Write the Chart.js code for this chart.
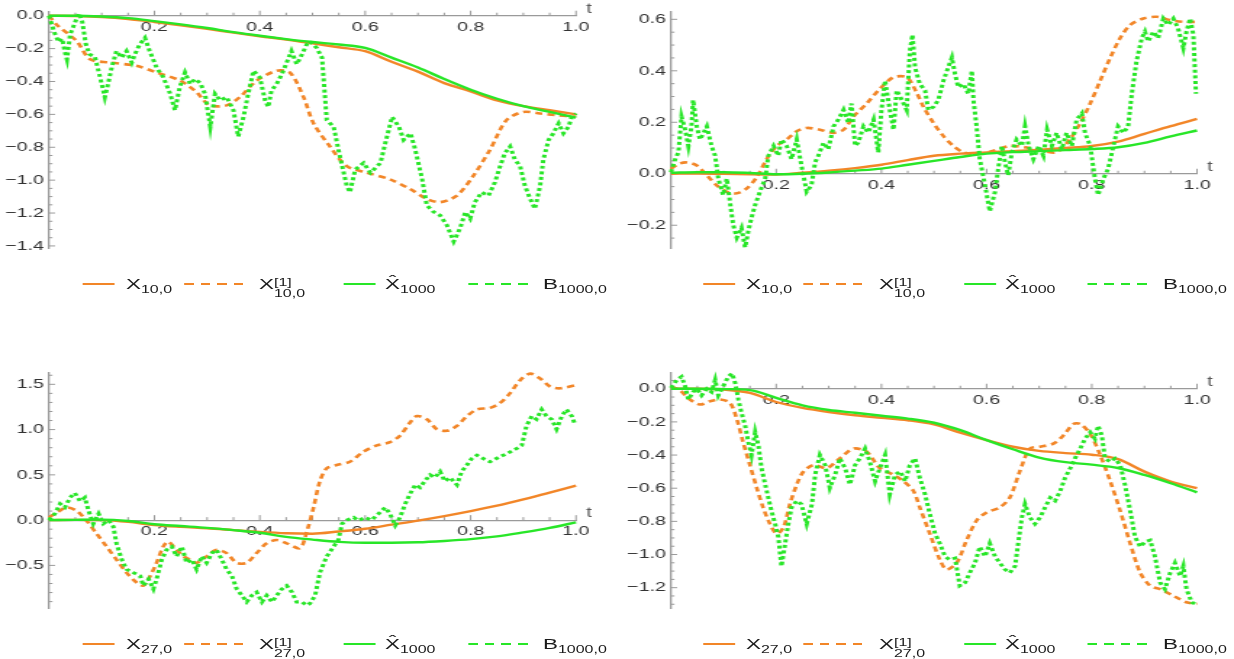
<!DOCTYPE html>
<html>
<head>
<meta charset="utf-8">
<script src="https://cdn.jsdelivr.net/npm/chart.js@4.4.0/dist/chart.umd.min.js"></script>
<style>
html, body { margin: 0; padding: 0; background: #fff; overflow: hidden; }
#page { position: absolute; left: 0; top: 0; width: 851px; height: 659px; transform: scaleX(1.45); transform-origin: 0 0; font-family: "Liberation Sans", Arial, sans-serif; color: #1a1a1a; }
.panel { position: absolute; }
.leg { position: absolute; height: 0; }
.sw { position: absolute; top: -1.3px; height: 2.6px; }
.tx { position: absolute; top: -12px; line-height: 24px; font-size: 15.5px; white-space: nowrap; }
.tx sub { font-size: 11px; vertical-align: -4px; line-height: 0; }
.stack { display: inline-block; vertical-align: -8px; font-size: 11px; line-height: 11px; }
.stack span { display: block; }
</style>
</head>
<body>
<div id="page">
  <div class="panel" style="left:0;top:0;width:425px;height:260px"><canvas id="c1"></canvas></div>
  <div class="panel" style="left:425px;top:0;width:426px;height:260px"><canvas id="c2"></canvas></div>
  <div class="panel" style="left:0;top:360px;width:425px;height:260px"><canvas id="c3"></canvas></div>
  <div class="panel" style="left:425px;top:360px;width:426px;height:260px"><canvas id="c4"></canvas></div>
</div>
<script>
const orange = '#f28628'
const green = '#28e628'
const axisColor = '#9a9a9a'
const labelColor = '#333333'

// shared t grid for the smooth curves
const tGrid = [0, 0.05, 0.1, 0.15, 0.2, 0.25, 0.3, 0.35, 0.4, 0.45, 0.5, 0.55, 0.6, 0.65, 0.7, 0.75, 0.8, 0.85, 0.9, 0.95, 1]
const xTickLabels = [0.2, 0.4, 0.6, 0.8, 1.0]

// panel 1 (top left)
const p1X = [0, -0.002, -0.008, -0.02, -0.038, -0.058, -0.08, -0.103, -0.125, -0.145, -0.168, -0.192, -0.216, -0.28, -0.34, -0.41, -0.46, -0.515, -0.55, -0.575, -0.6]
const p1Hat = [0, 0, -0.005, -0.015, -0.033, -0.053, -0.075, -0.1, -0.122, -0.142, -0.16, -0.175, -0.196, -0.255, -0.315, -0.385, -0.45, -0.505, -0.55, -0.585, -0.62]
const p1X1 = [[0, 0], [0.015, -0.056], [0.053, -0.156], [0.078, -0.265], [0.116, -0.285], [0.166, -0.305], [0.204, -0.345], [0.249, -0.395], [0.28, -0.465], [0.305, -0.545], [0.337, -0.545], [0.362, -0.495], [0.394, -0.395], [0.432, -0.335], [0.457, -0.345], [0.483, -0.495], [0.502, -0.655], [0.533, -0.795], [0.565, -0.915], [0.603, -0.955], [0.647, -0.995], [0.685, -1.054], [0.717, -1.114], [0.742, -1.134], [0.774, -1.094], [0.805, -0.974], [0.837, -0.814], [0.868, -0.635], [0.9, -0.585], [0.932, -0.595], [0.963, -0.605], [1.0, -0.615]]
const p1B = [[0, 0], [0.01, -0.1], [0.018, -0.16], [0.025, -0.14], [0.03, -0.22], [0.034, -0.265], [0.04, -0.115], [0.05, -0.036], [0.057, 0.014], [0.063, -0.036], [0.07, -0.175], [0.077, -0.235], [0.087, -0.25], [0.097, -0.375], [0.106, -0.495], [0.112, -0.415], [0.119, -0.315], [0.128, -0.215], [0.138, -0.255], [0.147, -0.215], [0.157, -0.285], [0.163, -0.235], [0.172, -0.175], [0.182, -0.135], [0.191, -0.215], [0.204, -0.315], [0.217, -0.375], [0.23, -0.475], [0.239, -0.575], [0.248, -0.435], [0.258, -0.345], [0.268, -0.415], [0.277, -0.385], [0.287, -0.41], [0.296, -0.475], [0.306, -0.675], [0.315, -0.475], [0.325, -0.515], [0.337, -0.495], [0.35, -0.575], [0.359, -0.735], [0.369, -0.615], [0.378, -0.475], [0.388, -0.335], [0.4, -0.375], [0.41, -0.515], [0.416, -0.555], [0.422, -0.455], [0.432, -0.415], [0.442, -0.355], [0.451, -0.285], [0.46, -0.215], [0.47, -0.295], [0.48, -0.235], [0.489, -0.175], [0.495, -0.156], [0.508, -0.196], [0.518, -0.255], [0.527, -0.635], [0.54, -0.675], [0.552, -0.855], [0.565, -1.034], [0.571, -1.074], [0.581, -0.935], [0.597, -0.895], [0.61, -0.955], [0.629, -0.895], [0.638, -0.775], [0.651, -0.615], [0.664, -0.675], [0.673, -0.755], [0.686, -0.715], [0.695, -0.815], [0.708, -0.995], [0.717, -1.154], [0.73, -1.194], [0.742, -1.214], [0.755, -1.274], [0.768, -1.373], [0.78, -1.293], [0.79, -1.194], [0.799, -1.234], [0.808, -1.134], [0.821, -1.074], [0.834, -1.094], [0.846, -1.014], [0.856, -0.915], [0.865, -0.835], [0.875, -0.795], [0.884, -0.875], [0.894, -0.915], [0.903, -1.034], [0.913, -1.114], [0.922, -1.174], [0.932, -1.034], [0.938, -0.875], [0.948, -0.755], [0.957, -0.715], [0.967, -0.655], [0.976, -0.715], [0.986, -0.675], [0.992, -0.615], [1.0, -0.595]]
const p1YTicks = [0, -0.2, -0.4, -0.6, -0.8, -1.0, -1.2, -1.4]

// panel 2 (top right)
const p2X = [0, 0.001, 0, -0.002, -0.003, 0.004, 0.012, 0.022, 0.035, 0.053, 0.07, 0.078, 0.083, 0.088, 0.093, 0.1, 0.108, 0.125, 0.155, 0.185, 0.213]
const p2Hat = [0.004, 0.006, 0.006, 0.003, -0.002, 0, 0.005, 0.012, 0.02, 0.035, 0.05, 0.065, 0.078, 0.084, 0.088, 0.092, 0.096, 0.103, 0.12, 0.145, 0.168]
const p2X1 = [[0, 0.019], [0.014, 0.038], [0.03, 0.044], [0.049, 0.032], [0.068, -0.006], [0.087, -0.045], [0.106, -0.07], [0.125, -0.076], [0.144, -0.057], [0.163, -0.013], [0.182, 0.057], [0.201, 0.108], [0.22, 0.133], [0.239, 0.165], [0.258, 0.178], [0.283, 0.171], [0.309, 0.159], [0.328, 0.171], [0.347, 0.222], [0.372, 0.273], [0.397, 0.33], [0.423, 0.375], [0.448, 0.375], [0.467, 0.315], [0.48, 0.26], [0.499, 0.197], [0.518, 0.146], [0.537, 0.108], [0.556, 0.083], [0.58, 0.076], [0.613, 0.089], [0.644, 0.108], [0.676, 0.102], [0.708, 0.089], [0.733, 0.083], [0.758, 0.133], [0.778, 0.197], [0.797, 0.273], [0.816, 0.362], [0.835, 0.451], [0.854, 0.527], [0.873, 0.578], [0.898, 0.603], [0.923, 0.61], [0.949, 0.597], [0.974, 0.59], [1.0, 0.59]]
const p2B = [[0, 0.006], [0.008, 0.057], [0.014, 0.083], [0.02, 0.222], [0.027, 0.171], [0.033, 0.108], [0.039, 0.184], [0.042, 0.286], [0.049, 0.184], [0.055, 0.133], [0.062, 0.16], [0.068, 0.184], [0.077, 0.108], [0.084, 0.07], [0.09, -0.019], [0.099, -0.083], [0.106, -0.019], [0.112, -0.108], [0.118, -0.197], [0.125, -0.248], [0.134, -0.21], [0.141, -0.286], [0.147, -0.222], [0.153, -0.171], [0.16, -0.121], [0.169, -0.07], [0.179, -0.019], [0.185, 0.07], [0.195, 0.108], [0.204, 0.07], [0.21, 0.133], [0.22, 0.108], [0.229, 0.057], [0.239, 0.133], [0.248, 0.032], [0.258, -0.07], [0.267, -0.045], [0.274, 0.045], [0.28, 0.07], [0.29, 0.121], [0.299, 0.095], [0.309, 0.184], [0.318, 0.21], [0.328, 0.248], [0.337, 0.197], [0.343, 0.273], [0.35, 0.108], [0.356, 0.121], [0.366, 0.184], [0.375, 0.16], [0.385, 0.21], [0.394, 0.083], [0.4, 0.248], [0.407, 0.362], [0.416, 0.248], [0.423, 0.171], [0.429, 0.324], [0.439, 0.286], [0.448, 0.248], [0.454, 0.476], [0.459, 0.54], [0.464, 0.413], [0.473, 0.349], [0.483, 0.324], [0.489, 0.248], [0.499, 0.26], [0.508, 0.286], [0.518, 0.362], [0.527, 0.413], [0.534, 0.451], [0.54, 0.387], [0.546, 0.336], [0.556, 0.349], [0.565, 0.311], [0.572, 0.4], [0.575, 0.286], [0.581, 0.184], [0.587, 0.057], [0.597, -0.045], [0.606, -0.146], [0.616, -0.07], [0.622, 0.019], [0.629, 0.108], [0.635, 0.045], [0.641, -0.006], [0.648, 0.083], [0.657, 0.133], [0.667, 0.108], [0.673, 0.184], [0.68, 0.108], [0.689, 0.057], [0.699, 0.108], [0.708, 0.07], [0.715, 0.171], [0.724, 0.108], [0.733, 0.159], [0.743, 0.095], [0.752, 0.159], [0.762, 0.108], [0.771, 0.21], [0.781, 0.235], [0.787, 0.159], [0.797, 0.108], [0.806, -0.019], [0.812, -0.083], [0.822, -0.019], [0.831, 0.019], [0.841, 0.108], [0.85, 0.184], [0.86, 0.159], [0.869, 0.184], [0.876, 0.311], [0.885, 0.438], [0.895, 0.527], [0.901, 0.552], [0.907, 0.514], [0.917, 0.552], [0.926, 0.527], [0.936, 0.603], [0.945, 0.578], [0.955, 0.603], [0.964, 0.565], [0.974, 0.489], [0.98, 0.552], [0.987, 0.603], [0.993, 0.54], [0.998, 0.311]]
const p2YTicks = [-0.2, 0, 0.2, 0.4, 0.6]

// panel 3 (bottom left)
const p3X = [0, 0.003, 0, -0.02, -0.055, -0.075, -0.09, -0.11, -0.13, -0.145, -0.15, -0.125, -0.095, -0.05, -0.005, 0.045, 0.1, 0.16, 0.23, 0.305, 0.38]
const p3Hat = [0, 0.003, 0.005, -0.01, -0.045, -0.065, -0.085, -0.11, -0.14, -0.185, -0.215, -0.24, -0.25, -0.25, -0.245, -0.23, -0.21, -0.18, -0.135, -0.085, -0.025]
const p3X1 = [[0, 0.03], [0.021, 0.105], [0.033, 0.14], [0.052, 0.105], [0.071, -0.004], [0.09, -0.148], [0.109, -0.29], [0.128, -0.436], [0.147, -0.58], [0.166, -0.688], [0.179, -0.724], [0.192, -0.616], [0.204, -0.472], [0.217, -0.29], [0.226, -0.238], [0.242, -0.328], [0.255, -0.4], [0.268, -0.436], [0.28, -0.472], [0.299, -0.4], [0.318, -0.328], [0.337, -0.364], [0.356, -0.472], [0.375, -0.472], [0.394, -0.364], [0.413, -0.256], [0.432, -0.22], [0.451, -0.256], [0.476, -0.31], [0.489, -0.13], [0.502, 0.14], [0.514, 0.43], [0.527, 0.573], [0.546, 0.609], [0.571, 0.645], [0.596, 0.753], [0.622, 0.825], [0.647, 0.861], [0.666, 0.933], [0.685, 1.078], [0.698, 1.149], [0.717, 1.114], [0.736, 1.005], [0.755, 0.987], [0.774, 1.041], [0.793, 1.149], [0.812, 1.222], [0.837, 1.24], [0.856, 1.294], [0.875, 1.402], [0.894, 1.546], [0.913, 1.618], [0.932, 1.564], [0.951, 1.474], [0.97, 1.456], [1.0, 1.492]]
const p3B = [[0, 0], [0.011, 0.07], [0.021, 0.18], [0.03, 0.14], [0.04, 0.25], [0.049, 0.3], [0.059, 0.21], [0.068, 0.25], [0.075, 0.105], [0.084, -0.04], [0.094, 0.07], [0.103, -0.04], [0.113, 0], [0.122, -0.07], [0.128, -0.256], [0.138, -0.436], [0.147, -0.544], [0.16, -0.58], [0.173, -0.616], [0.179, -0.724], [0.189, -0.652], [0.198, -0.76], [0.204, -0.652], [0.214, -0.436], [0.223, -0.328], [0.233, -0.292], [0.242, -0.4], [0.252, -0.292], [0.261, -0.472], [0.271, -0.436], [0.28, -0.544], [0.29, -0.4], [0.299, -0.472], [0.309, -0.364], [0.318, -0.328], [0.328, -0.436], [0.337, -0.544], [0.347, -0.616], [0.356, -0.76], [0.366, -0.832], [0.375, -0.904], [0.385, -0.832], [0.394, -0.796], [0.404, -0.904], [0.413, -0.832], [0.423, -0.904], [0.432, -0.832], [0.442, -0.76], [0.451, -0.724], [0.461, -0.796], [0.47, -0.904], [0.48, -0.904], [0.489, -0.94], [0.495, -0.922], [0.505, -0.832], [0.514, -0.58], [0.527, -0.4], [0.54, -0.292], [0.549, -0.22], [0.556, -0.04], [0.565, 0], [0.578, 0.03], [0.587, -0.004], [0.6, 0.03], [0.612, 0], [0.625, 0.07], [0.638, 0.14], [0.647, 0.07], [0.657, -0.058], [0.666, 0.03], [0.676, 0.18], [0.685, 0.29], [0.695, 0.39], [0.704, 0.36], [0.713, 0.43], [0.723, 0.5], [0.732, 0.47], [0.742, 0.537], [0.751, 0.43], [0.761, 0.47], [0.774, 0.39], [0.783, 0.537], [0.793, 0.609], [0.802, 0.68], [0.812, 0.717], [0.824, 0.68], [0.837, 0.645], [0.849, 0.68], [0.862, 0.717], [0.875, 0.753], [0.887, 0.789], [0.897, 0.825], [0.906, 1.041], [0.916, 1.149], [0.925, 1.114], [0.935, 1.222], [0.944, 1.149], [0.954, 1.114], [0.963, 1.005], [0.973, 1.149], [0.982, 1.222], [0.992, 1.149], [0.998, 1.06]]
const p3YTicks = [-0.5, 0, 0.5, 1.0, 1.5]

// panel 4 (bottom right)
const p4X = [0, 0, -0.005, -0.025, -0.08, -0.115, -0.14, -0.16, -0.175, -0.19, -0.215, -0.265, -0.31, -0.35, -0.375, -0.388, -0.398, -0.425, -0.5, -0.56, -0.6]
const p4Hat = [0, 0, -0.002, -0.008, -0.055, -0.1, -0.128, -0.145, -0.163, -0.18, -0.205, -0.25, -0.31, -0.365, -0.415, -0.443, -0.458, -0.478, -0.52, -0.57, -0.625]
const p4X1 = [[0, 0.014], [0.017, -0.01], [0.036, -0.065], [0.055, -0.095], [0.074, -0.075], [0.093, -0.065], [0.112, -0.085], [0.125, -0.183], [0.137, -0.321], [0.15, -0.46], [0.163, -0.598], [0.175, -0.716], [0.188, -0.815], [0.201, -0.874], [0.214, -0.835], [0.226, -0.696], [0.239, -0.578], [0.252, -0.499], [0.271, -0.46], [0.296, -0.479], [0.321, -0.42], [0.347, -0.361], [0.372, -0.38], [0.397, -0.479], [0.423, -0.519], [0.442, -0.558], [0.461, -0.617], [0.473, -0.716], [0.492, -0.874], [0.511, -1.031], [0.524, -1.09], [0.543, -1.051], [0.562, -0.913], [0.581, -0.795], [0.6, -0.746], [0.625, -0.716], [0.644, -0.657], [0.663, -0.499], [0.682, -0.361], [0.701, -0.35], [0.727, -0.331], [0.746, -0.282], [0.765, -0.213], [0.778, -0.213], [0.797, -0.272], [0.816, -0.4], [0.835, -0.558], [0.854, -0.736], [0.873, -0.933], [0.892, -1.11], [0.911, -1.189], [0.93, -1.209], [0.955, -1.249], [0.98, -1.288], [1.0, -1.298]]
const p4B = [[0, 0.005], [0.011, 0.053], [0.02, 0.073], [0.027, 0.014], [0.033, -0.065], [0.042, -0.02], [0.049, 0], [0.058, -0.04], [0.068, 0], [0.077, -0.02], [0.084, 0.053], [0.09, -0.04], [0.099, 0.014], [0.109, 0.073], [0.116, 0.093], [0.122, 0.034], [0.128, -0.065], [0.134, -0.144], [0.141, -0.223], [0.147, -0.321], [0.153, -0.4], [0.16, -0.262], [0.166, -0.341], [0.172, -0.479], [0.179, -0.578], [0.185, -0.657], [0.191, -0.736], [0.198, -0.815], [0.204, -0.893], [0.21, -1.071], [0.217, -0.933], [0.223, -0.815], [0.229, -0.716], [0.239, -0.676], [0.248, -0.696], [0.258, -0.815], [0.268, -0.696], [0.274, -0.519], [0.283, -0.4], [0.293, -0.46], [0.302, -0.598], [0.312, -0.519], [0.321, -0.42], [0.331, -0.479], [0.34, -0.578], [0.35, -0.46], [0.359, -0.42], [0.369, -0.361], [0.378, -0.44], [0.388, -0.558], [0.397, -0.479], [0.407, -0.4], [0.416, -0.637], [0.426, -0.519], [0.436, -0.499], [0.445, -0.558], [0.454, -0.46], [0.464, -0.42], [0.473, -0.538], [0.483, -0.637], [0.492, -0.755], [0.502, -0.874], [0.511, -0.933], [0.521, -1.012], [0.53, -1.031], [0.54, -1.022], [0.549, -1.189], [0.559, -1.17], [0.568, -1.11], [0.578, -1.051], [0.587, -0.953], [0.597, -1.012], [0.606, -0.933], [0.616, -1.012], [0.625, -1.051], [0.635, -1.09], [0.644, -1.11], [0.654, -1.071], [0.66, -0.933], [0.667, -0.775], [0.673, -0.696], [0.682, -0.775], [0.692, -0.815], [0.702, -0.775], [0.711, -0.716], [0.721, -0.657], [0.73, -0.676], [0.74, -0.617], [0.749, -0.538], [0.759, -0.479], [0.768, -0.42], [0.778, -0.361], [0.787, -0.302], [0.797, -0.262], [0.806, -0.302], [0.812, -0.223], [0.819, -0.282], [0.825, -0.42], [0.835, -0.44], [0.844, -0.42], [0.854, -0.46], [0.863, -0.578], [0.873, -0.736], [0.882, -0.893], [0.892, -0.953], [0.901, -0.923], [0.911, -0.913], [0.92, -1.012], [0.93, -1.17], [0.939, -1.209], [0.949, -1.11], [0.958, -1.051], [0.968, -1.13], [0.974, -1.071], [0.98, -1.209], [0.99, -1.288], [0.996, -1.298]]
const p4YTicks = [0, -0.2, -0.4, -0.6, -0.8, -1.0, -1.2]

const S = 1.45
const fmt = v => (v < -1e-9 ? '\u2212' : '') + Math.abs(v).toFixed(1)

// Mathematica-like inward ticks and the "t" axis label
const mmaAxes = {
    id: 'mmaAxes',
    beforeDatasetsDraw(chart, args, o) {
        const { ctx, chartArea: a, scales: { x, y } } = chart
        const y0 = y.getPixelForValue(0)
        const x0 = x.getPixelForValue(0)
        ctx.save()
        ctx.strokeStyle = axisColor
        ctx.lineWidth = 1
        ctx.beginPath()
        for (let i = 1; i <= 20; i++) {
            const px = x.getPixelForValue(i * 0.05)
            ctx.moveTo(px, y0)
            ctx.lineTo(px, y0 - (i % 4 === 0 ? 5 : 3))
        }
        const n0 = Math.ceil(y.min / o.minor - 1e-6)
        const n1 = Math.floor(y.max / o.minor + 1e-6)
        for (let k = n0; k <= n1; k++) {
            const v = k * o.minor
            const major = o.majors.some(m => Math.abs(m - v) < 1e-6)
            const py = y.getPixelForValue(v)
            ctx.moveTo(x0, py)
            ctx.lineTo(x0 + (major ? 4.2 : 2.4), py)
        }
        ctx.stroke()
        ctx.fillStyle = '#5a5a5a'
        ctx.font = '14px "Liberation Sans"'
        ctx.textAlign = 'left'
        ctx.textBaseline = 'middle'
        ctx.fillText('t', a.right + 7, y0 - 7)
        ctx.restore()
    }
}

const fromGrid = vals => tGrid.map((t, i) => ({ x: t, y: vals[i] }))
const fromPairs = pairs => pairs.map(p => ({ x: p[0], y: p[1] }))

function makePanel(id, cfg) {
    const tickFont = { family: '"Liberation Sans", Arial, sans-serif', size: 13.5 }
    new Chart(document.getElementById(id), {
        type: 'line',
        data: {
            datasets: [{
                data: fromGrid(cfg.x), borderColor: orange, borderWidth: 2.4, cubicInterpolationMode: 'monotone', order: 4
            }, {
                data: fromPairs(cfg.x1), borderColor: orange, borderWidth: 2.6, borderDash: [5, 3.5], tension: 0.3, order: 3
            }, {
                data: fromGrid(cfg.hat), borderColor: green, borderWidth: 2.4, cubicInterpolationMode: 'monotone', order: 2
            }, {
                data: fromPairs(cfg.b), borderColor: green, borderWidth: 3, borderDash: [3, 2.6], tension: 0, order: 1
            }]
        },
        options: {
            responsive: true,
            maintainAspectRatio: false,
            animation: false,
            events: [],
            elements: { point: { radius: 0 } },
            datasets: { line: { clip: false } },
            layout: { padding: cfg.pad },
            plugins: { legend: { display: false }, tooltip: { enabled: false }, mmaAxes: { minor: cfg.minor, majors: cfg.yTicks } },
            scales: {
                x: {
                    type: 'linear', min: 0, max: 1, position: { y: 0 },
                    afterFit: s => { s.height = 0 },
                    afterBuildTicks: s => { s.ticks = xTickLabels.map(v => ({ value: v })) },
                    grid: { display: false, drawTicks: false },
                    border: { display: true, color: axisColor, width: 1.2 },
                    ticks: { autoSkip: false, maxRotation: 0, padding: 3, color: labelColor, font: tickFont, callback: v => v.toFixed(1) }
                },
                y: {
                    type: 'linear', min: cfg.min, max: cfg.max, position: 'left',
                    afterFit: s => { s.width = cfg.yw },
                    afterBuildTicks: s => { s.ticks = cfg.yTicks.map(v => ({ value: v })) },
                    grid: { display: false, drawTicks: false },
                    border: { display: true, color: axisColor, width: 1.3 },
                    ticks: { autoSkip: false, padding: 3.5, color: labelColor, font: tickFont, callback: v => fmt(v) }
                }
            }
        },
        plugins: [mmaAxes]
    })
}

makePanel('c1', { x: p1X, x1: p1X1, hat: p1Hat, b: p1B, yTicks: p1YTicks, minor: 0.05, min: -1.415, max: 0.025, yw: 49 / S, pad: { top: 10, bottom: 10, left: 0, right: 425 - 576 / S } })
makePanel('c2', { x: p2X, x1: p2X1, hat: p2Hat, b: p2B, yTicks: p2YTicks, minor: 0.05, min: -0.29, max: 0.63, yw: 671 / S - 425, pad: { top: 10, bottom: 9.3, left: 0, right: 851 - 1197 / S } })
makePanel('c3', { x: p3X, x1: p3X1, hat: p3Hat, b: p3B, yTicks: p3YTicks, minor: 0.1, min: -0.975, max: 1.625, yw: 49 / S, pad: { top: 13, bottom: 7, left: 0, right: 425 - 576 / S } })
makePanel('c4', { x: p4X, x1: p4X1, hat: p4Hat, b: p4B, yTicks: p4YTicks, minor: 0.05, min: -1.325, max: 0.095, yw: 671 / S - 425, pad: { top: 13, bottom: 7, left: 0, right: 851 - 1197 / S } })

// legends (HTML, so sub/superscripts stay real text); offsets in reference pixels
function legend(refLeft, refTop, sub) {
    const page = document.getElementById('page')
    const box = document.createElement('div')
    box.className = 'leg'
    box.style.left = (refLeft / S) + 'px'
    box.style.top = refTop + 'px'
    const dash = c => 'repeating-linear-gradient(to right,' + c + ' 0 6.6px,transparent 6.6px 11.4px)'
    const items = [
        '<div class="sw" style="left:0;width:' + (32 / S) + 'px;background:' + orange + '"></div>',
        '<div class="tx" style="left:' + (43 / S) + 'px">X<sub>' + sub + '</sub></div>',
        '<div class="sw" style="left:' + (101 / S) + 'px;width:' + (61 / S) + 'px;background:' + dash(orange) + '"></div>',
        '<div class="tx" style="left:' + (176 / S) + 'px">X<span class="stack"><span>[1]</span><span>' + sub + '</span></span></div>',
        '<div class="sw" style="left:' + (261 / S) + 'px;width:' + (32 / S) + 'px;background:' + green + '"></div>',
        '<div class="tx" style="left:' + (302 / S) + 'px">X\u0302<sub>1000</sub></div>',
        '<div class="sw" style="left:' + (385 / S) + 'px;width:' + (62 / S) + 'px;background:' + dash(green) + '"></div>',
        '<div class="tx" style="left:' + (460 / S) + 'px">B<sub>1000,0</sub></div>'
    ]
    box.innerHTML = items.join('')
    page.appendChild(box)
}
legend(83, 284, '10,0')
legend(703, 284, '10,0')
legend(83, 644, '27,0')
legend(703, 644, '27,0')
</script>
</body>
</html>
